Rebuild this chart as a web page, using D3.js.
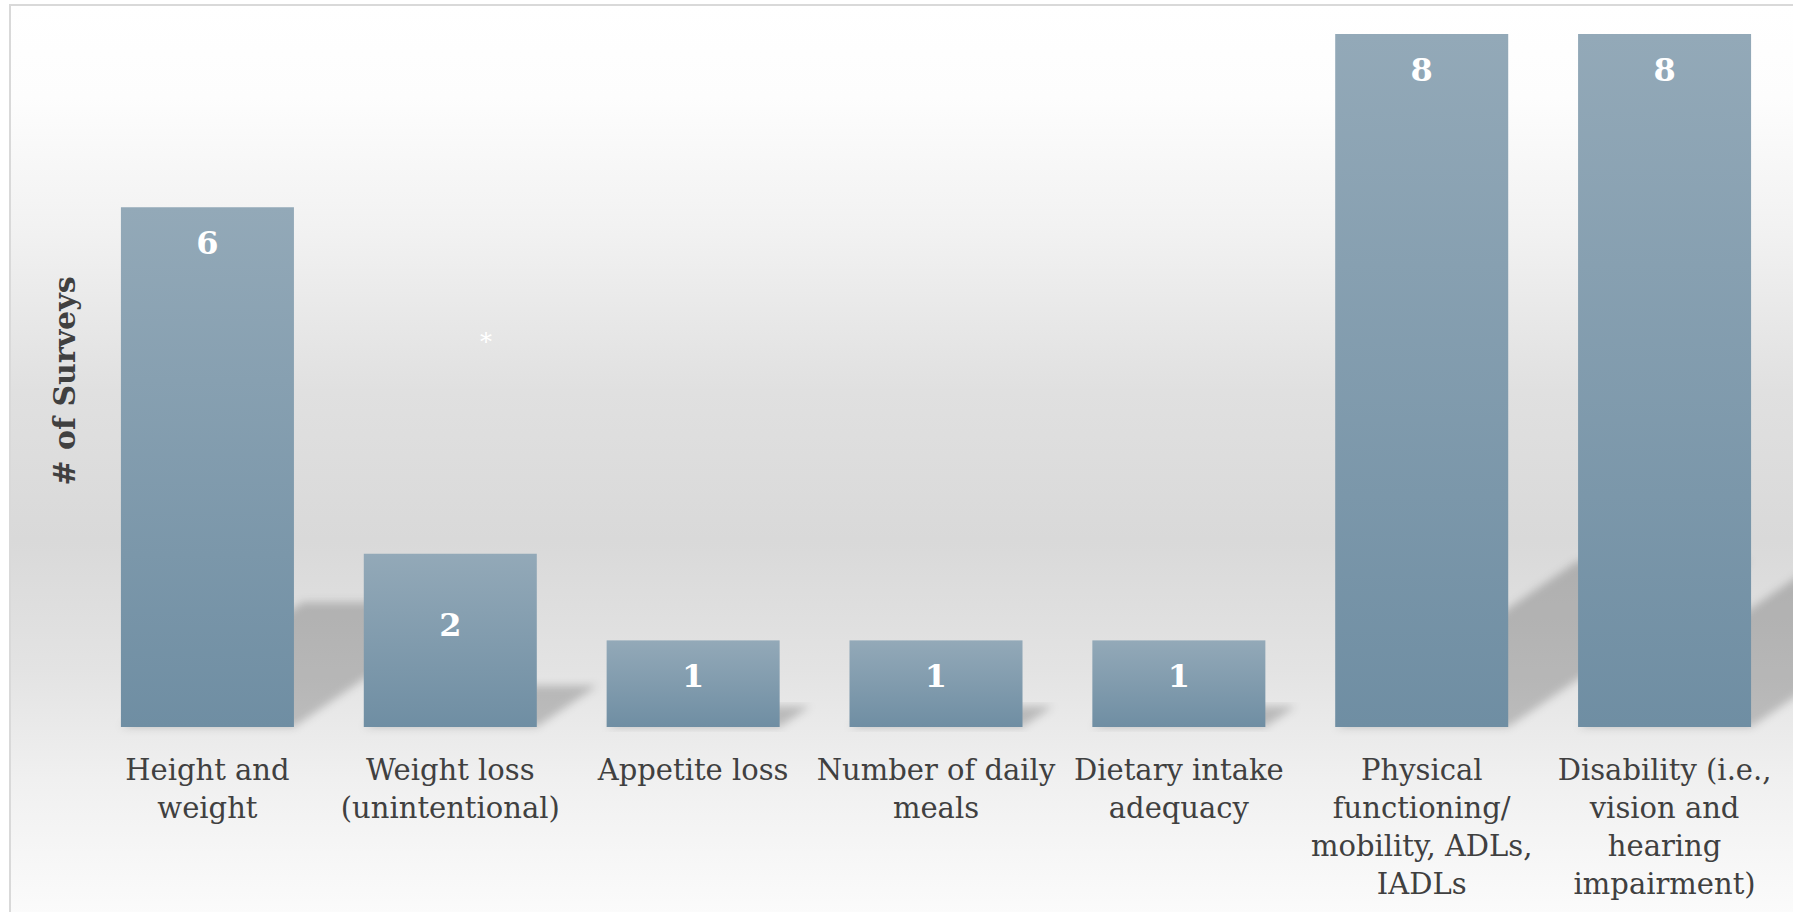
<!DOCTYPE html>
<html>
<head>
<meta charset="utf-8">
<script src="https://cdn.jsdelivr.net/npm/d3@7"></script>
<style>
  html, body { margin: 0; padding: 0; background: #ffffff; overflow: hidden; }
  svg { display: block; }
</style>
</head>
<body>
<svg id="chart" width="1793" height="912"></svg>
<script>
// Survey coverage of nutrition / function measures
const categories = [
  "Height and\nweight",
  "Weight loss\n(unintentional)",
  "Appetite loss",
  "Number of daily\nmeals",
  "Dietary intake\nadequacy",
  "Physical\nfunctioning/\nmobility, ADLs,\nIADLs",
  "Disability (i.e.,\nvision and\nhearing\nimpairment)"
];
const surveyCounts = [6, 2, 1, 1, 1, 8, 8];
const valueDomain = [0, 8];
const axisTitle = "# of Surveys";
const footnoteMark = "*";

const W = 1793, H = 912;
const svg = d3.select("#chart");
const defs = svg.append("defs");

// chart area background: soft vertical grey gradient
const bg = defs.append("linearGradient").attr("id", "bgGrad")
  .attr("x1", 0).attr("y1", 0).attr("x2", 0).attr("y2", 1);
[[0, "#ffffff"], [0.1, "#fdfdfd"], [0.25, "#f1f1f1"], [0.42, "#e0e0e0"],
 [0.58, "#d9d9d9"], [0.72, "#e3e3e3"], [0.84, "#f0f0f0"], [1, "#fcfcfc"]]
  .forEach(([o, c]) => bg.append("stop").attr("offset", o).attr("stop-color", c));

// bar fill: lighter steel blue at the top, darker at the base
const barGrad = defs.append("linearGradient").attr("id", "barGrad")
  .attr("x1", 0).attr("y1", 0).attr("x2", 0).attr("y2", 1);
barGrad.append("stop").attr("offset", 0).attr("stop-color", "#93a9b8");
barGrad.append("stop").attr("offset", 1).attr("stop-color", "#6f8ea3");

const blur = defs.append("filter").attr("id", "shadowBlur")
  .attr("x", "-20%").attr("y", "-20%").attr("width", "140%").attr("height", "140%");
blur.append("feGaussianBlur").attr("stdDeviation", 4);

defs.append("clipPath").attr("id", "areaClip")
  .append("rect").attr("x", 10).attr("y", 6).attr("width", W - 10).attr("height", H - 6);

svg.append("rect")
  .attr("x", 10).attr("y", 5).attr("width", W + 10).attr("height", H + 10)
  .attr("fill", "url(#bgGrad)")
  .attr("stroke", "#d9d9d9").attr("stroke-width", 2);

// scales
const x = d3.scaleBand()
  .domain(categories)
  .range([86, 1786])
  .paddingInner(0.2876)
  .paddingOuter(0.1438);

const y = d3.scaleLinear().domain(valueDomain).range([727, 34]);

const data = categories.map((c, i) => ({ cat: c, v: surveyCounts[i] }));

// perspective shadows cast up and to the right of each bar
const shearX = 0.35, squashY = 0.24;
svg.append("g").attr("clip-path", "url(#areaClip)")
  .selectAll("polygon").data(data).join("polygon")
  .attr("points", d => {
    const x0 = x(d.cat), x1 = x0 + x.bandwidth();
    const b = y(0), h = y(0) - y(d.v);
    return [[x0, b], [x1, b], [x1 + h * shearX, b - h * squashY], [x0 + h * shearX, b - h * squashY]]
      .map(p => p.join(",")).join(" ");
  })
  .attr("fill", "#000")
  .attr("fill-opacity", 0.2)
  .attr("filter", "url(#shadowBlur)");

// bars
svg.append("g").selectAll("rect").data(data).join("rect")
  .attr("x", d => x(d.cat))
  .attr("y", d => y(d.v))
  .attr("width", x.bandwidth())
  .attr("height", d => y(0) - y(d.v))
  .attr("fill", "url(#barGrad)");

// value labels: near the top of tall bars, a little above centre on short ones
svg.append("g").selectAll("text").data(data).join("text")
  .attr("x", d => x(d.cat) + x.bandwidth() / 2)
  .attr("y", d => {
    const top = y(d.v), h = y(0) - top;
    return h > 300 ? top + 36 : top + h * 0.41;
  })
  .attr("dy", "0.35em")
  .attr("text-anchor", "middle")
  .attr("font-family", "'DejaVu Serif', serif")
  .attr("font-weight", "bold")
  .attr("font-size", 32)
  .attr("fill", "#ffffff")
  .text(d => d.v);

// category labels (multi-line)
const xAxis = d3.axisBottom(x).tickSize(0).tickFormat("");
const axisG = svg.append("g").attr("transform", `translate(0,${y(0)})`).call(xAxis);
axisG.select(".domain").remove();
axisG.selectAll(".tick").each(function (d) {
  const t = d3.select(this).append("text")
    .attr("text-anchor", "middle")
    .attr("font-family", "'DejaVu Serif', serif")
    .attr("font-size", 29)
    .attr("fill", "#404040");
  d.split("\n").forEach((line, i) => {
    t.append("tspan").attr("x", 0).attr("y", 53 + i * 38).text(line);
  });
});

// axis title
svg.append("text")
  .attr("transform", "translate(64,381) rotate(-90)")
  .attr("dy", "0.35em")
  .attr("text-anchor", "middle")
  .attr("font-family", "'DejaVu Serif', serif")
  .attr("font-weight", "bold")
  .attr("font-size", 30)
  .attr("fill", "#404040")
  .text(axisTitle);

// footnote marker
svg.append("text")
  .attr("x", 486).attr("y", 350)
  .attr("text-anchor", "middle")
  .attr("font-family", "'DejaVu Serif', serif")
  .attr("font-size", 24)
  .attr("fill", "#ffffff")
  .text(footnoteMark);
</script>
</body>
</html>
